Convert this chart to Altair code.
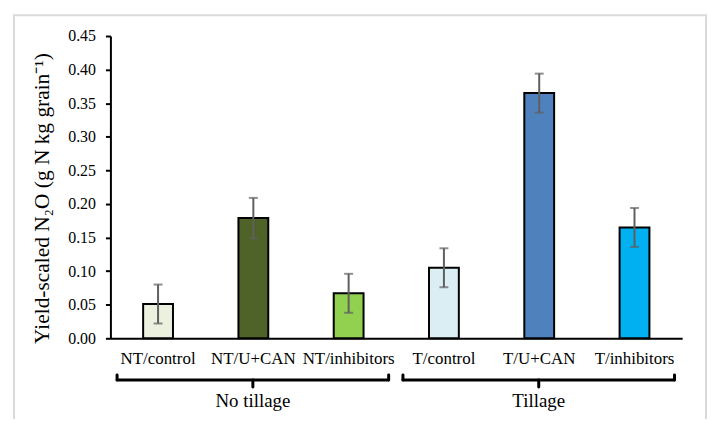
import altair as alt
import pandas as pd

categories = ["NT/control", "NT/U+CAN", "NT/inhibitors", "T/control", "T/U+CAN", "T/inhibitors"]
values = [0.051, 0.179, 0.067, 0.105, 0.365, 0.165]
errors = [0.029, 0.030, 0.029, 0.029, 0.029, 0.029]
colors = ["#EBF1DE", "#4F6228", "#92D050", "#DAEEF3", "#4F81BD", "#00B0F0"]
y_ticks = [0.0, 0.05, 0.10, 0.15, 0.20, 0.25, 0.30, 0.35, 0.40, 0.45]

groups = ["No tillage", "Tillage"]
group_first = [0, 3]
group_last = [2, 5]

FONT = "Times New Roman, Liberation Serif, serif"
W, H = 575, 304
INSET_L, INSET_R = 0.07, 0.08

df = pd.DataFrame({"cat": categories, "val": values, "err": errors})
df["lo"] = df["val"] - df["err"]
df["hi"] = df["val"] + df["err"]

gdf = pd.DataFrame({
    "group": groups,
    "start": [f + INSET_L for f in group_first],
    "end": [l + 1 - INSET_R for l in group_last],
})
gdf["mid"] = (gdf["start"] + gdf["end"]) / 2

x_axis = alt.Axis(title=None, labelAngle=0, ticks=False, domainColor="black",
                  domainWidth=2, labelFont=FONT, labelFontSize=17,
                  labelColor="black", labelPadding=12, labelOverlap=False)
x_scale = alt.Scale(paddingInner=0, paddingOuter=0)
y_axis = alt.Axis(values=y_ticks, format=".2f", grid=False, labelOverlap=False,
                  title="Yield-scaled N₂O (g N kg grain⁻¹)",
                  titleFont=FONT, titleFontSize=21.5, titleFontWeight="normal",
                  titleColor="black", titlePadding=14, titleY=163,
                  labelFont=FONT, labelFontSize=16, labelColor="black",
                  labelPadding=10, tickColor="black", tickSize=5, tickWidth=2,
                  domainColor="black", domainWidth=2)
y_scale = alt.Scale(domain=[0, 0.45], nice=False)


def xc():
    return alt.X("cat:N", sort=categories, scale=x_scale, axis=x_axis)


def yc(field):
    return alt.Y(field, type="quantitative", scale=y_scale, axis=y_axis)


base = alt.Chart(df)
bars = base.mark_bar(size=30, stroke="black", strokeWidth=2).encode(
    x=xc(), y=yc("val"),
    color=alt.Color("cat:N", scale=alt.Scale(domain=categories, range=colors), legend=None),
)
err_rule = base.mark_rule(color="#5f5f5f", strokeWidth=2).encode(
    x=xc(), y=yc("lo"), y2="hi:Q")
err_lo = base.mark_tick(color="#5f5f5f", size=9, thickness=2).encode(
    x=xc(), y=yc("lo"))
err_hi = base.mark_tick(color="#5f5f5f", size=9, thickness=2).encode(
    x=xc(), y=yc("hi"))

main = alt.layer(bars, err_rule, err_lo, err_hi)

xq = alt.Scale(domain=[0, len(categories)], nice=False, zero=False)
gbase = alt.Chart(gdf)
br_h = gbase.mark_rule(color="black", strokeWidth=3, strokeCap="round").encode(
    x=alt.X("start:Q", scale=xq, axis=None), x2="end:Q", y=alt.value(346))
br_l = gbase.mark_rule(color="black", strokeWidth=3, strokeCap="round").encode(
    x=alt.X("start:Q", scale=xq, axis=None), y=alt.value(341), y2=alt.value(346))
br_r = gbase.mark_rule(color="black", strokeWidth=3, strokeCap="round").encode(
    x=alt.X("end:Q", scale=xq, axis=None), y=alt.value(341), y2=alt.value(346))
br_c = gbase.mark_rule(color="black", strokeWidth=3, strokeCap="round").encode(
    x=alt.X("mid:Q", scale=xq, axis=None), y=alt.value(346), y2=alt.value(353))
glabel = gbase.mark_text(font=FONT, fontSize=19, color="black", baseline="alphabetic").encode(
    x=alt.X("mid:Q", scale=xq, axis=None), y=alt.value(373), text="group:N")

brackets = alt.layer(br_h, br_l, br_r, br_c, glabel)

frame = alt.Chart(alt.Data(values=[{"a": 1}])).mark_rect(
    filled=False, stroke="#D9D9D9", strokeWidth=2).encode(
    x=alt.value(-97), x2=alt.value(599), y=alt.value(-21), y2=alt.value(460))

chart = alt.layer(main, brackets, frame).resolve_scale(x="independent").properties(
    width=W, height=H,
    autosize=alt.AutoSizeParams(type="none"),
    padding={"left": 103, "top": 27, "right": 26, "bottom": 80},
).configure_view(stroke=None)

chart.save("out.html", embed_options={"renderer": "svg", "actions": False})
